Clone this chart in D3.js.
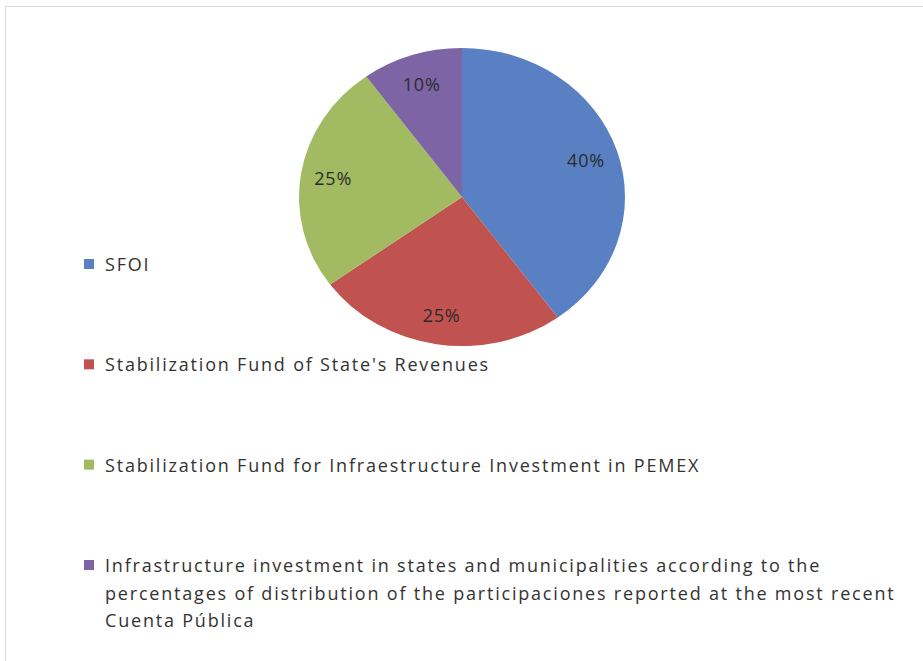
<!DOCTYPE html>
<html>
<head>
<meta charset="utf-8">
<script src="https://cdn.jsdelivr.net/npm/d3@7"></script>
<style>
  html, body { margin: 0; padding: 0; background: #fff; }
  svg { display: block; }
</style>
</head>
<body>
<svg id="chart" width="923" height="661"></svg>
<script>
const categories = [
  "SFOI",
  "Stabilization Fund of State's Revenues",
  "Stabilization Fund for Infraestructure Investment in PEMEX",
  "Infrastructure investment in states and municipalities according to the percentages of distribution of the participaciones reported at the most recent Cuenta Pública"
];
const legendLines = [
  ["SFOI"],
  ["Stabilization Fund of State's Revenues"],
  ["Stabilization Fund for Infraestructure Investment in PEMEX"],
  ["Infrastructure investment in states and municipalities according to the",
   "percentages of distribution of the participaciones reported at the most recent",
   "Cuenta Pública"]
];
const values = [40, 25, 25, 10];
const valueLabels = ["40%", "25%", "25%", "10%"];
const colors = ["#5880C2", "#C0524F", "#A2BA62", "#7D65A5"];

const svg = d3.select("#chart");
const font = "'Open Sans', 'DejaVu Sans', sans-serif";

// outer frame
svg.append("rect")
  .attr("x", 5.5).attr("y", 6.5)
  .attr("width", 1000).attr("height", 1000)
  .attr("fill", "none").attr("stroke", "#d9d9d9").attr("stroke-width", 1);

const cx = 462, cy = 197, rx = 163, ry = 149;
const sx = rx / ry;

const pie = d3.pie().sort(null).value(d => d)(values);
const arc = d3.arc().innerRadius(0).outerRadius(ry);
const labelArc = d3.arc().innerRadius(ry * 0.8).outerRadius(ry * 0.8);

const g = svg.append("g").attr("transform", `translate(${cx},${cy}) scale(${sx},1)`);
g.selectAll("path").data(pie).join("path")
  .attr("d", arc)
  .attr("fill", (d, i) => colors[i]);

svg.append("g").selectAll("text").data(pie).join("text")
  .attr("x", d => cx + labelArc.centroid(d)[0] * sx)
  .attr("y", d => cy + labelArc.centroid(d)[1])
  .attr("text-anchor", "middle")
  .attr("dominant-baseline", "central")
  .attr("font-family", font)
  .attr("font-size", 18)
  .attr("letter-spacing", 0.8)
  .attr("fill", "#2b2b2b")
  .text((d, i) => valueLabels[i]);

// legend
const legendY = d3.scalePoint().domain(d3.range(categories.length)).range([271, 572]);
const lineH = 27.5;
const lg = svg.append("g");
categories.forEach((c, i) => {
  const y = legendY(i);
  lg.append("rect")
    .attr("x", 84).attr("y", y - 12)
    .attr("width", 10).attr("height", 10)
    .attr("fill", colors[i]);
  const t = lg.append("text")
    .attr("font-family", font)
    .attr("font-size", 18)
    .attr("letter-spacing", 1.8)
    .attr("fill", "#333");
  legendLines[i].forEach((ln, j) => {
    t.append("tspan").attr("x", 105).attr("y", y + j * lineH).text(ln);
  });
});
</script>
</body>
</html>
